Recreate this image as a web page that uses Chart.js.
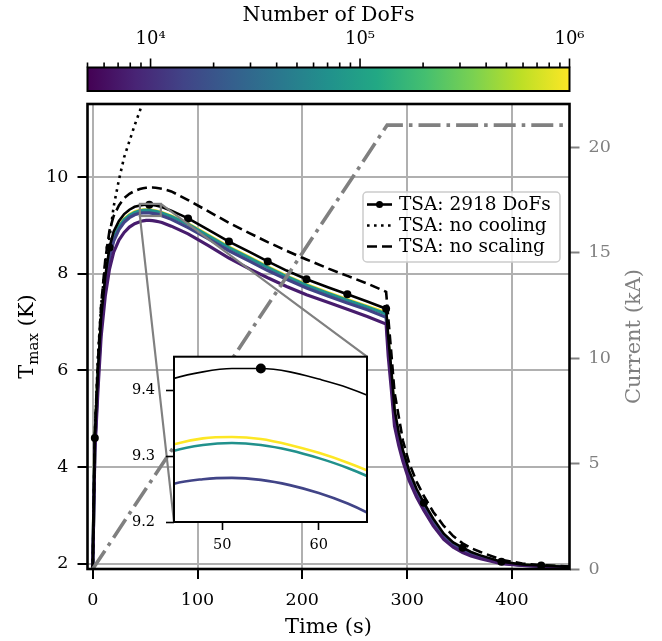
<!DOCTYPE html>
<html>
<head>
<meta charset="utf-8">
<title>Tmax vs time</title>
<script src="https://cdn.jsdelivr.net/npm/chart.js@4.4.1/dist/chart.umd.min.js"></script>
<style>
  html, body { margin: 0; padding: 0; background: #fff; }
  #wrap { position: relative; width: 662px; height: 641px; }
  canvas { position: absolute; }
  #main { left: 0; top: 0; }
  #cbar { left: 0; top: 0; }
  #inset { left: 100px; top: 337px; }
</style>
</head>
<body>
<div id="wrap">
  <canvas id="main" width="662" height="641"></canvas>
  <canvas id="cbar" width="662" height="100"></canvas>
  <canvas id="inset" width="277" height="223"></canvas>
</div>
<script>
// time axis shared by all temperature curves (s)
const time = [0, 2, 5, 8, 12, 16, 20, 25, 30, 35, 40, 45, 48, 51, 54, 57, 60, 63, 66, 75,
  91, 110, 130, 150, 167, 185, 204, 225, 243, 262, 280, 282, 285, 288, 292, 296, 302,
  309, 316, 325, 335, 344, 353, 361, 370, 390, 410, 428, 455];

// Tmax (K)
const tsa2918 = [1.90, 4.60, 6.00, 7.10, 7.95, 8.55, 8.88, 9.10, 9.24, 9.33, 9.39, 9.418, 9.428, 9.433, 9.433, 9.428, 9.417, 9.404, 9.386, 9.31,
  9.15, 8.92, 8.67, 8.45, 8.26, 8.07, 7.89, 7.72, 7.58, 7.43, 7.28, 6.70, 6.00, 5.20, 4.72, 4.35, 3.92,
  3.55, 3.26, 2.93, 2.62, 2.44, 2.33, 2.24, 2.17, 2.04, 1.98, 1.96, 1.93];
const tsaNoScaling = [1.90, 4.70, 6.20, 7.35, 8.30, 8.90, 9.20, 9.42, 9.57, 9.66, 9.72, 9.76, 9.775, 9.785, 9.79, 9.79, 9.785, 9.775, 9.765, 9.71,
  9.53, 9.30, 9.06, 8.84, 8.66, 8.48, 8.30, 8.11, 7.96, 7.80, 7.63, 7.10, 6.35, 5.55, 5.05, 4.55, 4.08,
  3.70, 3.40, 3.07, 2.78, 2.57, 2.42, 2.32, 2.24, 2.08, 2.00, 1.97, 1.94];
const tsaNoCooling = [1.90, 4.70, 6.30, 7.35, 8.20, 8.75, 9.40, 9.95, 10.42, 10.75, 11.08, 11.38, 11.58, 11.78, null, null, null, null, null, null,
  null, null, null, null, null, null, null, null, null, null, null, null, null, null, null, null, null,
  null, null, null, null, null, null, null, null, null, null, null, null];
// reference curves, coloured by number of DoFs
const refDofs = [7500, 14500, 70000, 1000000];
const refTmax = [
  [1.90, 4.30, 5.60, 6.70, 7.55, 8.10, 8.45, 8.70, 8.86, 8.97, 9.04, 9.08, 9.10, 9.11, 9.11, 9.105, 9.095, 9.08, 9.065, 8.99,
   8.83, 8.59, 8.33, 8.10, 7.92, 7.74, 7.57, 7.41, 7.27, 7.12, 6.96, 6.30, 5.60, 4.85, 4.45, 4.12, 3.72,
   3.38, 3.10, 2.78, 2.50, 2.34, 2.23, 2.16, 2.10, 2.00, 1.96, 1.94, 1.92],
  [1.90, 4.40, 5.80, 6.90, 7.75, 8.33, 8.68, 8.92, 9.07, 9.165, 9.225, 9.258, 9.265, 9.267, 9.264, 9.256, 9.244, 9.228, 9.207, 9.13,
   8.96, 8.73, 8.48, 8.26, 8.07, 7.89, 7.71, 7.54, 7.40, 7.26, 7.10, 6.50, 5.80, 5.00, 4.55, 4.20, 3.79,
   3.44, 3.16, 2.83, 2.54, 2.38, 2.26, 2.19, 2.13, 2.01, 1.96, 1.94, 1.92],
  [1.90, 4.48, 5.88, 6.98, 7.83, 8.41, 8.75, 8.98, 9.125, 9.215, 9.275, 9.308, 9.317, 9.320, 9.317, 9.309, 9.297, 9.282, 9.263, 9.19,
   9.03, 8.795, 8.545, 8.325, 8.135, 7.945, 7.765, 7.595, 7.455, 7.315, 7.17, 6.57, 5.87, 5.07, 4.60, 4.25, 3.83,
   3.48, 3.19, 2.86, 2.56, 2.40, 2.27, 2.20, 2.13, 2.02, 1.97, 1.95, 1.93],
  [1.90, 4.50, 5.90, 7.00, 7.85, 8.43, 8.77, 9.00, 9.14, 9.23, 9.29, 9.318, 9.327, 9.329, 9.326, 9.317, 9.305, 9.290, 9.272, 9.20,
   9.04, 8.81, 8.56, 8.34, 8.15, 7.96, 7.78, 7.61, 7.47, 7.33, 7.20, 6.60, 5.90, 5.10, 4.63, 4.27, 3.85,
   3.49, 3.20, 2.87, 2.57, 2.41, 2.28, 2.21, 2.14, 2.02, 1.97, 1.95, 1.93]
];
const markerTimes = [2, 16, 54, 91, 130, 167, 204, 243, 280, 316, 353, 390, 428];

// current (kA) on the right axis
const currentTime = [0, 281, 455];
const currentKA = [0, 21.05, 21.05];

// axes
const xTicks = [0, 100, 200, 300, 400];
const yTicks = [2, 4, 6, 8, 10];
const y2Ticks = [0, 5, 10, 15, 20];
const insetX = [45, 65];
const insetY = [9.2, 9.451];
const insetXTicks = [50, 60];
const insetYTicks = [9.2, 9.3, 9.4];
const dofsRange = [5000, 1000000];
const cbMajor = [1e4, 1e5, 1e6];
const cbLabels = ['10⁴', '10⁵', '10⁶'];
const legendLabels = ['TSA: 2918 DoFs', 'TSA: no cooling', 'TSA: no scaling'];

const viridis = ['#440154', '#482475', '#414487', '#355f8d', '#2a788e', '#21918c',
  '#22a884', '#44bf70', '#7ad151', '#bddf26', '#fde725'];

function cmap(f) {
  f = Math.min(1, Math.max(0, f)) * (viridis.length - 1);
  const i = Math.min(Math.floor(f), viridis.length - 2), t = f - i;
  const a = viridis[i], b = viridis[i + 1];
  const ch = (h, k) => parseInt(h.substr(1 + 2 * k, 2), 16);
  const c = [0, 1, 2].map(k => Math.round(ch(a, k) + (ch(b, k) - ch(a, k)) * t));
  return `rgb(${c[0]},${c[1]},${c[2]})`;
}
const dofsColor = d => cmap((Math.log10(d) - Math.log10(dofsRange[0])) /
  (Math.log10(dofsRange[1]) - Math.log10(dofsRange[0])));

Chart.defaults.font.family = "'DejaVu Serif', serif";
Chart.defaults.color = '#000';

const pts = ys => time.map((t, i) => ({x: t, y: ys[i]}));
const setTicks = list => s => { s.ticks = list.map(v => ({value: v})); };

function tempDatasets(big) {
  const smooth = big ? 'default' : 'monotone';
  const sets = [{
    data: pts(tsa2918), borderColor: '#000', borderWidth: big ? 2.6 : 1.6,
    pointRadius: c => markerTimes.includes(c.raw && c.raw.x) ? (big ? 4 : 5) : 0,
    pointBackgroundColor: '#000', pointBorderWidth: 0, cubicInterpolationMode: smooth, tension: 0
  }];
  if (big) {
    sets.push({data: pts(tsaNoScaling), borderColor: '#000', borderWidth: 2.6, borderDash: [10, 5],
      pointRadius: 0, tension: 0});
    sets.push({data: pts(tsaNoCooling), borderColor: '#000', borderWidth: 2.6, borderDash: [2.6, 4.4],
      pointRadius: 0, tension: 0});
  }
  // smallest DoFs drawn last (on top)
  for (let k = 0; k < refDofs.length; k++) {
    sets.push({data: pts(refTmax[k]), borderColor: dofsColor(refDofs[k]), borderWidth: big ? 3.2 : 2.6,
      pointRadius: 0, cubicInterpolationMode: smooth, tension: 0});
  }
  return sets;
}

const framePlugin = {
  id: 'frame',
  afterDatasetsDraw(chart, args, opts) {
    const {ctx, chartArea: a} = chart;
    ctx.save();
    ctx.strokeStyle = '#000';
    ctx.lineWidth = opts.width || 2;
    ctx.strokeRect(a.left, a.top, a.right - a.left, a.bottom - a.top);
    ctx.restore();
  }
};

// ---------- inset ----------
const insetChart = new Chart(document.getElementById('inset'), {
  type: 'line',
  data: {datasets: tempDatasets(false)},
  options: {
    responsive: false, animation: false, events: [],
    layout: {padding: {left: 0, top: 10, right: 10, bottom: 0}},
    plugins: {legend: {display: false}, tooltip: {enabled: false}, frame: {width: 2}},
    scales: {
      x: {type: 'linear', min: insetX[0], max: insetX[1], afterBuildTicks: setTicks(insetXTicks),
        afterFit: s => { s.height = 38; },
        grid: {drawOnChartArea: false, tickLength: 8, tickColor: '#000', tickWidth: 1.6},
        border: {display: false},
        ticks: {font: {size: 14.5}, padding: 7, maxRotation: 0, color: '#000'}},
      y: {type: 'linear', min: insetY[0], max: insetY[1], afterBuildTicks: setTicks(insetYTicks),
        afterFit: s => { s.width = 74; },
        grid: {drawOnChartArea: false, tickLength: 8, tickColor: '#000', tickWidth: 1.6},
        border: {display: false},
        ticks: {font: {size: 14.5}, padding: 11, color: '#000', callback: v => v.toFixed(1)}}
    }
  },
  plugins: [{
    id: 'whiteBg',
    beforeDraw(chart) {
      const {ctx, chartArea: a} = chart;
      ctx.save(); ctx.fillStyle = '#fff';
      ctx.fillRect(a.left, a.top, a.right - a.left, a.bottom - a.top);
      ctx.restore();
    }
  }, framePlugin]
});

// ---------- main ----------
const insetMark = {
  id: 'insetMark',
  afterDatasetsDraw(chart) {
    const {ctx, scales: {x, y}} = chart;
    const x0 = x.getPixelForValue(insetX[0]), x1 = x.getPixelForValue(insetX[1]);
    const y0 = y.getPixelForValue(insetY[0]), y1 = y.getPixelForValue(insetY[1]);
    const cv = insetChart.canvas, ia = insetChart.chartArea;
    const ox = cv.offsetLeft, oy = cv.offsetTop;
    ctx.save();
    ctx.strokeStyle = '#808080';
    ctx.lineWidth = 2.2;
    ctx.strokeRect(x0, y1, x1 - x0, y0 - y1);
    ctx.beginPath();
    ctx.moveTo(x0, y0); ctx.lineTo(ox + ia.left, oy + ia.bottom);
    ctx.moveTo(x1, y1); ctx.lineTo(ox + ia.right, oy + ia.top);
    ctx.stroke();
    ctx.restore();
  }
};

const legendBox = {
  id: 'legendBox',
  afterDatasetsDraw(chart) {
    const {ctx, chartArea: a} = chart;
    const bx = a.right - 9.5 - 197, by = a.top + 88, bw = 197, bh = 70;
    ctx.save();
    ctx.beginPath();
    ctx.roundRect(bx, by, bw, bh, 4);
    ctx.fillStyle = 'rgba(255,255,255,0.8)';
    ctx.fill();
    ctx.strokeStyle = '#cccccc';
    ctx.lineWidth = 1.5;
    ctx.stroke();
    ctx.font = "18.5px 'DejaVu Serif'";
    ctx.textBaseline = 'middle';
    ctx.fillStyle = '#000';
    ctx.strokeStyle = '#000';
    ctx.lineWidth = 2.6;
    const dashes = [[], [2.6, 4.4], [10, 5]];
    legendLabels.forEach((txt, i) => {
      const ry = by + 12.5 + i * 21;
      ctx.setLineDash(dashes[i]);
      ctx.beginPath();
      ctx.moveTo(bx + 4, ry); ctx.lineTo(bx + 29, ry);
      ctx.stroke();
      ctx.setLineDash([]);
      if (i === 0) {
        ctx.beginPath(); ctx.arc(bx + 16.5, ry, 3.5, 0, Math.PI * 2); ctx.fill();
      }
      ctx.fillText(txt, bx + 36, ry + 1);
    });
    ctx.restore();
  }
};

const sideTitles = {
  id: 'sideTitles',
  afterDraw(chart) {
    const {ctx, chartArea: a} = chart;
    const cy = (a.top + a.bottom) / 2;
    const big = "21px 'DejaVu Serif'", small = "15px 'DejaVu Serif'";
    ctx.save();
    ctx.fillStyle = '#000';
    ctx.textBaseline = 'alphabetic';
    ctx.textAlign = 'left';
    ctx.font = big;
    const wT = ctx.measureText('T').width, wK = ctx.measureText(' (K)').width;
    ctx.font = small;
    const wM = ctx.measureText('max').width;
    ctx.translate(33, cy);
    ctx.rotate(-Math.PI / 2);
    let px = -(wT + wM + wK) / 2;
    ctx.font = big; ctx.fillText('T', px, 0); px += wT;
    ctx.font = small; ctx.fillText('max', px, 4.5); px += wM;
    ctx.font = big; ctx.fillText(' (K)', px, 0);
    ctx.restore();

    ctx.save();
    ctx.fillStyle = '#808080';
    ctx.font = big;
    ctx.textAlign = 'center';
    ctx.textBaseline = 'alphabetic';
    ctx.translate(640, cy);
    ctx.rotate(-Math.PI / 2);
    ctx.fillText('Current (kA)', 0, 0);
    ctx.restore();
  }
};

const mainChart = new Chart(document.getElementById('main'), {
  type: 'line',
  data: {
    datasets: [{
      data: currentTime.map((t, i) => ({x: t, y: currentKA[i]})), yAxisID: 'y2',
      borderColor: '#808080', borderWidth: 3.6, borderDash: [22, 6, 3.6, 6], pointRadius: 0, tension: 0
    }].concat(tempDatasets(true))
  },
  options: {
    responsive: false, animation: false, events: [],
    layout: {padding: {left: 0, top: 104, right: 0, bottom: 0}},
    plugins: {legend: {display: false}, tooltip: {enabled: false}, frame: {width: 2.6}},
    scales: {
      x: {type: 'linear', min: -5, max: 455, afterBuildTicks: setTicks(xTicks),
        afterFit: s => { s.height = 72; },
        grid: {color: '#b0b0b0', lineWidth: 2, tickColor: '#000', tickWidth: 2, tickLength: 10},
        border: {display: false},
        ticks: {font: {size: 17.5}, padding: 11, maxRotation: 0},
        title: {display: true, text: 'Time (s)', font: {size: 21}, padding: {top: 0, bottom: 1}}},
      y: {type: 'linear', position: 'left', min: 1.888, max: 11.52, afterBuildTicks: setTicks(yTicks),
        afterFit: s => { s.width = 87.5; },
        grid: {color: '#b0b0b0', lineWidth: 2, tickColor: '#000', tickWidth: 2, tickLength: 10},
        border: {display: false},
        ticks: {font: {size: 17.5}, padding: 9}},
      y2: {type: 'linear', position: 'right', min: 0, max: 22.05, afterBuildTicks: setTicks(y2Ticks),
        afterFit: s => { s.width = 92.5; },
        grid: {drawOnChartArea: false, tickColor: '#808080', tickWidth: 2, tickLength: 10},
        border: {display: false},
        ticks: {font: {size: 17.5}, padding: 9, color: '#808080'}}
    }
  },
  plugins: [insetMark, legendBox, framePlugin, sideTitles]
});

// ---------- colorbar ----------
const cbTickVals = [];
for (let e = 3; e < 6; e++) {
  for (let m = 1; m < 10; m++) {
    const v = m * Math.pow(10, e);
    if (v >= dofsRange[0] && v <= dofsRange[1]) cbTickVals.push(v);
  }
}
cbTickVals.push(dofsRange[1]);

const cbDecor = {
  id: 'cbDecor',
  afterDraw(chart) {
    const {ctx, chartArea: a, scales: {x}} = chart;
    ctx.save();
    ctx.strokeStyle = '#000';
    ctx.lineWidth = 1.6;
    ctx.beginPath();
    cbTickVals.forEach(v => {
      const px = x.getPixelForValue(v);
      const len = cbMajor.includes(v) ? 9 : 5;
      ctx.moveTo(px, a.top); ctx.lineTo(px, a.top - len);
    });
    ctx.stroke();
    ctx.lineWidth = 2;
    ctx.strokeRect(a.left, a.top, a.right - a.left, a.bottom - a.top);
    ctx.restore();
  }
};

new Chart(document.getElementById('cbar'), {
  type: 'bar',
  data: {
    labels: ['DoFs'],
    datasets: [{
      data: [dofsRange],
      backgroundColor: c => {
        const a = c.chart.chartArea;
        if (!a) return viridis[0];
        const g = c.chart.ctx.createLinearGradient(a.left, 0, a.right, 0);
        viridis.forEach((col, i) => g.addColorStop(i / (viridis.length - 1), col));
        return g;
      },
      borderWidth: 0, barPercentage: 1, categoryPercentage: 1
    }]
  },
  options: {
    indexAxis: 'y', responsive: false, animation: false, events: [],
    layout: {padding: {left: 87.5, right: 92.5, top: 0, bottom: 9}},
    plugins: {legend: {display: false}, tooltip: {enabled: false}},
    scales: {
      x: {type: 'logarithmic', position: 'top', min: dofsRange[0], max: dofsRange[1],
        afterBuildTicks: setTicks(cbTickVals),
        afterFit: s => { s.height = 67.5; },
        grid: {display: false}, border: {display: false},
        ticks: {autoSkip: false, maxRotation: 0, font: {size: 18}, padding: 9,
          callback: v => { const i = cbMajor.indexOf(v); return i >= 0 ? cbLabels[i] : ''; }},
        title: {display: true, text: 'Number of DoFs', font: {size: 20.5}, padding: {top: 3, bottom: 0}}},
      y: {display: false}
    }
  },
  plugins: [cbDecor]
});
</script>
</body>
</html>
